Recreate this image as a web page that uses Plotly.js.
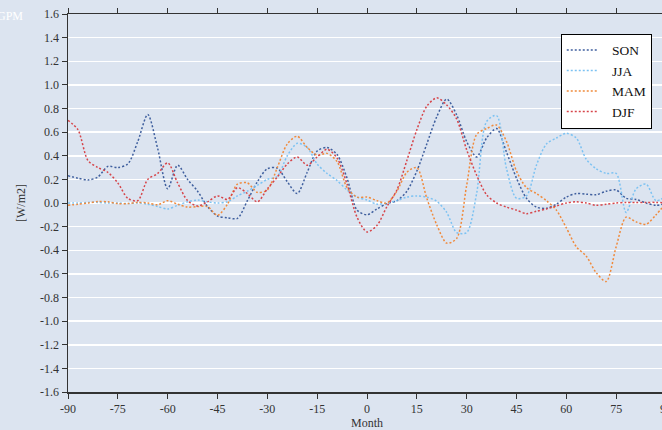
<!DOCTYPE html>
<html>
<head>
<meta charset="utf-8">
<script src="https://cdn.plot.ly/plotly-3.0.1.min.js"></script>
<style>
html,body{margin:0;padding:0;overflow:hidden;background:#dce4f0;}
#chart{width:680px;height:430px;}
</style>
</head>
<body>
<div id="chart"></div>
<script>
const month = [-90,-87,-84,-81,-78,-75,-72,-69,-66,-63,-60,-57,-54,-51,-48,-45,-42,-39,-36,-33,-30,-27,-24,-21,-18,-15,-12,-9,-6,-3,0,3,6,9,12,15,18,21,24,27,30,33,36,39,42,45,48,51,54,57,60,63,66,69,72,75,78,81,84,87,90];

const son = [0.23,0.21,0.195,0.22,0.31,0.30,0.33,0.52,0.75,0.46,0.12,0.32,0.20,0.10,-0.03,-0.11,-0.125,-0.13,0.02,0.18,0.29,0.295,0.18,0.08,0.26,0.44,0.47,0.41,0.21,-0.06,-0.10,-0.05,-0.005,0.02,0.10,0.27,0.50,0.73,0.88,0.745,0.52,0.39,0.55,0.63,0.43,0.21,0.04,-0.035,-0.045,-0.01,0.05,0.08,0.075,0.07,0.10,0.11,0.04,0.03,0.0,-0.02,0.0];

const jja = [0.0,0.0,0.005,0.005,0.0,0.0,-0.005,0.0,-0.01,-0.03,-0.05,-0.02,0.01,0.025,0.01,0.0,0.01,0.06,0.10,0.15,0.20,0.225,0.40,0.505,0.47,0.33,0.25,0.19,0.11,0.05,0.025,-0.01,0.0,0.02,0.05,0.06,0.05,0.015,-0.08,-0.25,-0.25,0.08,0.69,0.74,0.29,0.04,0.06,0.32,0.50,0.55,0.59,0.55,0.37,0.29,0.25,0.25,-0.08,0.12,0.16,0.02,0.06];

const mam = [-0.02,-0.01,0.0,0.012,0.01,-0.005,-0.005,0.005,0.0,-0.015,0.02,-0.01,-0.035,-0.03,-0.03,-0.105,-0.01,0.16,0.17,0.09,0.11,0.30,0.50,0.565,0.47,0.405,0.42,0.35,0.13,0.05,0.05,0.02,0.0,0.10,0.26,0.30,0.04,-0.185,-0.34,-0.30,0.15,0.58,0.63,0.66,0.52,0.27,0.13,0.08,0.02,-0.06,-0.21,-0.37,-0.45,-0.59,-0.665,-0.37,-0.12,-0.16,-0.18,-0.10,0.0];

const djf = [0.70,0.62,0.36,0.30,0.26,0.17,0.04,0.02,0.20,0.25,0.34,0.17,0.02,-0.025,0.01,0.06,0.03,0.13,0.08,0.01,0.12,0.22,0.33,0.39,0.32,0.39,0.455,0.38,0.16,-0.12,-0.245,-0.19,-0.03,0.11,0.36,0.62,0.82,0.89,0.83,0.71,0.45,0.235,0.07,0.0,-0.035,-0.06,-0.09,-0.07,-0.05,-0.025,0.0,0.01,0.0,-0.02,-0.01,0.0,0.005,0.005,0.005,0.005,0.0];

const seriesNames = ['SON','JJA','MAM','DJF'];
const seriesData = [son, jja, mam, djf];
const seriesColors = ['#3f5f9e','#7cc2f2','#f08a3c','#d6454a'];

const yTicks = [-1.6,-1.4,-1.2,-1.0,-0.8,-0.6,-0.4,-0.2,0.0,0.2,0.4,0.6,0.8,1.0,1.2,1.4,1.6];
const xTicks = [-90,-75,-60,-45,-30,-15,0,15,30,45,60,75,90];

const pad = '\u00a0\u00a0\u00a0';
const traces = seriesNames.map((name, i) => ({
  x: month,
  y: seriesData[i],
  name: pad + name,
  type: 'scatter',
  mode: 'lines',
  line: {color: seriesColors[i], width: 1.5, dash: '2px,2px', shape: 'spline', smoothing: 0.8}
}));

const font = {family: '"Liberation Serif", "DejaVu Serif", serif', size: 12, color: '#333'};

const layout = {
  width: 680,
  height: 430,
  margin: {l: 68, r: 14, t: 14, b: 38},
  paper_bgcolor: '#dce4f0',
  plot_bgcolor: '#dce4f0',
  font: font,
  showlegend: true,
  legend: {
    x: 0.824, y: 0.948, xanchor: 'left', yanchor: 'top',
    bgcolor: '#ffffff', bordercolor: '#000000', borderwidth: 1,
    font: {family: font.family, size: 13.5, color: '#111'},
    tracegroupgap: 0
  },
  xaxis: {
    range: [-90, 90],
    tickvals: xTicks,
    ticktext: xTicks.map(String),
    ticks: 'outside', ticklen: 5, tickwidth: 1, tickcolor: '#333',
    showline: true, linecolor: '#333', linewidth: 1.5,
    mirror: 'ticks',
    showgrid: false, zeroline: false,
    title: {text: 'Month', font: {family: font.family, size: 12, color: '#333'}, standoff: 4}
  },
  yaxis: {
    range: [-1.6, 1.6],
    tickvals: yTicks,
    ticktext: yTicks.map(v => v.toFixed(1)),
    ticks: 'outside', ticklen: 5, tickwidth: 1, tickcolor: '#333',
    showline: true, linecolor: '#333', linewidth: 1.5,
    showgrid: true, gridcolor: '#ffffff', gridwidth: 1.5,
    zeroline: false,
    title: {text: '[W/m2]', font: {family: font.family, size: 12, color: '#333'}, standoff: 12}
  },
  annotations: [{
    text: 'GPM', xref: 'paper', yref: 'paper',
    x: -0.072, y: 0.995, xanchor: 'right', yanchor: 'middle',
    showarrow: false, font: {family: font.family, size: 12, color: '#ffffff'}
  }]
};

Plotly.newPlot('chart', traces, layout, {displayModeBar: false, staticPlot: true});
</script>
</body>
</html>
